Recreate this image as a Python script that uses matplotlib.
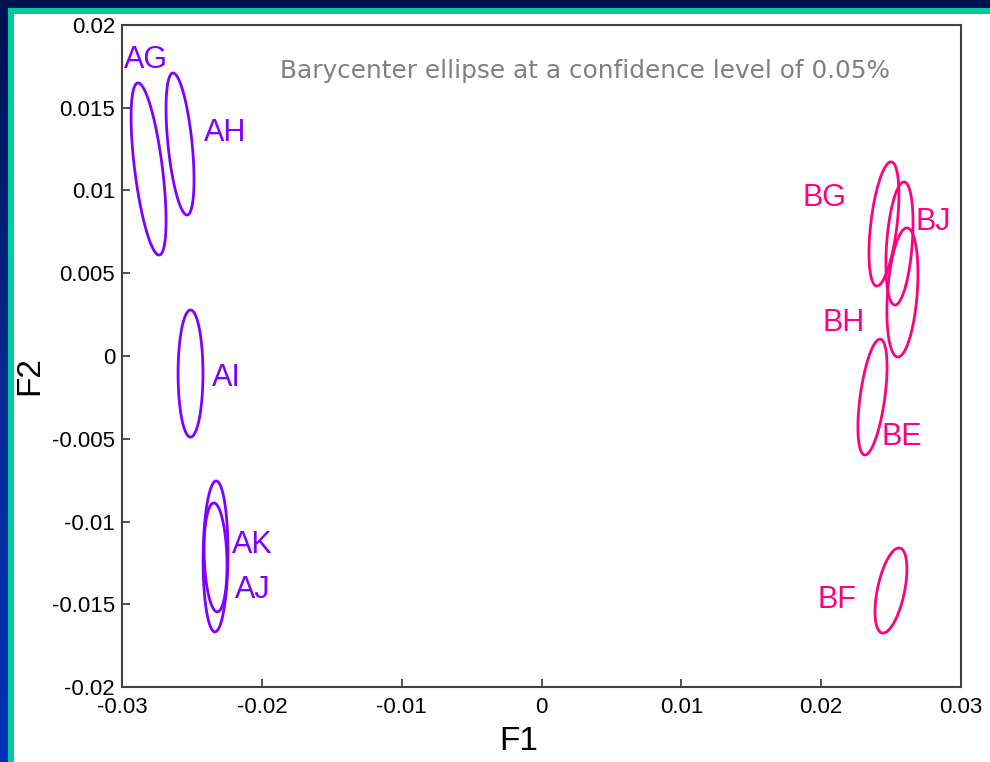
import numpy as np
import matplotlib
matplotlib.use("Agg")
import matplotlib.pyplot as plt
from matplotlib.patches import Rectangle, Polygon
from matplotlib.colors import LinearSegmentedColormap
from matplotlib.ticker import FuncFormatter, FixedLocator

plt.rcParams['font.family'] = ['Liberation Sans', 'DejaVu Sans']
plt.rcParams['axes.unicode_minus'] = False

# ---- data ----
names = ['AG', 'AH', 'AI', 'AK', 'AJ', 'BG', 'BJ', 'BH', 'BE', 'BF']
groups = ['A', 'A', 'A', 'A', 'A', 'B', 'B', 'B', 'B', 'B']
center_x = [-0.02810, -0.02585, -0.02510, -0.02331, -0.02331,
            0.02449, 0.02560, 0.02581, 0.02367, 0.02499]
center_y = [0.01130, 0.01281, -0.00106, -0.01211, -0.01217,
            0.00798, 0.00680, 0.00384, -0.00248, -0.01417]
half_x = [0.00125, 0.00100, 0.00089, 0.00089, 0.00082,
          0.00107, 0.00097, 0.00111, 0.00104, 0.00114]
half_y = [0.00520, 0.00429, 0.00384, 0.00456, 0.00329,
          0.00375, 0.00372, 0.00390, 0.00350, 0.00257]
corr = [-0.60, -0.50, 0.0, 0.05, -0.15, 0.47, 0.33, 0.29, 0.52, 0.50]
label_x = [-0.02986, -0.02414, -0.02356, -0.02213, -0.02192,
           0.01870, 0.02678, 0.02013, 0.02435, 0.01977]
label_y = [0.01790, 0.01350, -0.00133, -0.01142, -0.01414,
           0.00955, 0.00810, 0.00200, -0.00489, -0.01474]
x_ticks = [-0.03, -0.02, -0.01, 0, 0.01, 0.02, 0.03]
y_ticks = [-0.02, -0.015, -0.01, -0.005, 0, 0.005, 0.01, 0.015, 0.02]
title_text = 'Barycenter ellipse at a confidence level of 0.05%'
group_colors = {'A': '#8000FF', 'B': '#FF0080'}

W, H = 990, 762
fig = plt.figure(figsize=(W / 100, H / 100), dpi=100, facecolor='white')

# ---- frame decoration ----
navy = '#001050'
teal = '#00CC99'
fig.add_artist(Rectangle((0, 1 - 8 / H), 1, 8 / H, transform=fig.transFigure,
                         facecolor=navy, edgecolor='none', zorder=0))
fig.add_artist(Rectangle((8 / W, 1 - 14 / H), 1 - 8 / W, 6 / H, transform=fig.transFigure,
                         facecolor=teal, edgecolor='none', zorder=0))
fig.add_artist(Rectangle((8 / W, 0), 6 / W, 1 - 8 / H, transform=fig.transFigure,
                         facecolor=teal, edgecolor='none', zorder=0))
gax = fig.add_axes([0, 0, 8 / W, 1 - 8 / H])
gax.axis('off')
cm = LinearSegmentedColormap.from_list('g', ['#0030B8', '#0A2A90', navy])
gax.imshow(np.linspace(0, 1, 256).reshape(-1, 1)[::-1], aspect='auto', cmap=cm,
           extent=[0, 1, 0, 1], origin='upper')

# ---- main axes ----
ax = fig.add_axes([122 / W, 1 - 687 / H, (961 - 122) / W, (687 - 25) / H])
ax.set_xlim(-0.03, 0.03)
ax.set_ylim(-0.02, 0.02)

t = np.linspace(0, 2 * np.pi, 300, endpoint=False)
for i, nm in enumerate(names):
    r = corr[i]
    xs = center_x[i] + half_x[i] * np.cos(t)
    ys = center_y[i] + half_y[i] * (r * np.cos(t) + np.sqrt(1 - r * r) * np.sin(t))
    c = group_colors[groups[i]]
    ax.add_patch(Polygon(np.column_stack([xs, ys]), closed=True, fill=False,
                         edgecolor=c, lw=2.0, joinstyle='round'))
    ax.text(label_x[i], label_y[i], nm, color=c, fontsize=22, ha='left', va='center')

ax.text(0.5517, 0.9305, title_text, transform=ax.transAxes, color='#808080',
        fontsize=17.8, ha='center', va='center', family=['DejaVu Sans'])

ax.xaxis.set_major_locator(FixedLocator(x_ticks))
ax.yaxis.set_major_locator(FixedLocator(y_ticks))
fmt = FuncFormatter(lambda v, p: '0' if abs(v) < 1e-12 else ('%g' % v))
ax.xaxis.set_major_formatter(fmt)
ax.yaxis.set_major_formatter(fmt)
ax.tick_params(axis='both', direction='in', length=6, width=1.2, labelsize=16,
               color='#333333', labelcolor='black')
ax.tick_params(axis='x', pad=7)
ax.tick_params(axis='y', pad=5)
for s in ax.spines.values():
    s.set_color('#404040')
    s.set_linewidth(1.5)

ax.set_xlabel('F1', fontsize=24)
ax.set_ylabel('F2', fontsize=24)
ax.xaxis.set_label_coords(0.473, -0.059)
ax.yaxis.set_label_coords(-0.092, 0.471)

fig.savefig('out.png', dpi=100, facecolor='white')
